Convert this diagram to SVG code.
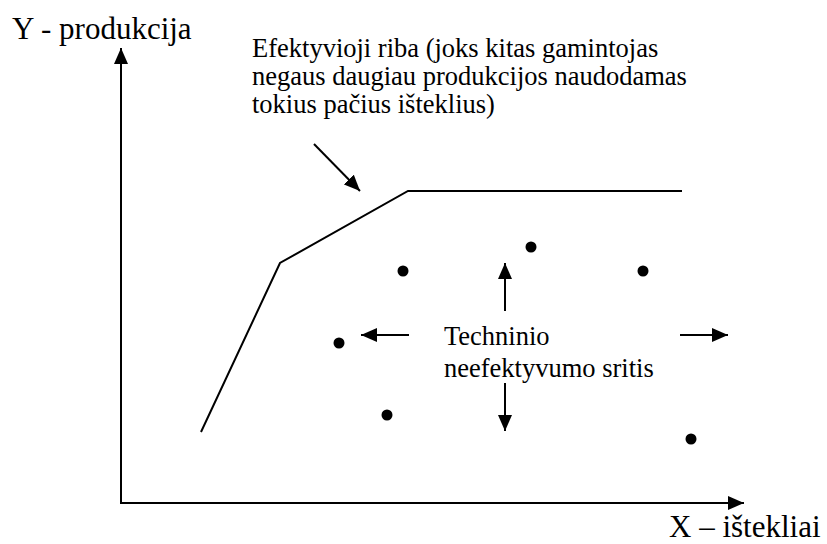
<svg xmlns="http://www.w3.org/2000/svg" width="827" height="544" viewBox="0 0 827 544">
  <style>
    text { font-family: 'Liberation Serif', 'Times New Roman', serif; fill: #000; }
    .axis-label { font-size: 31px; }
    .label { font-size: 26.5px; }
    .ln { stroke: #000; stroke-width: 2; fill: none; }
    .dot { fill: #000; }
  </style>
  <defs>
    <marker id="arrow" markerUnits="userSpaceOnUse" markerWidth="16" markerHeight="14" refX="16" refY="7" orient="auto">
      <path d="M0,0 L16,7 L0,14 z" fill="#000"/>
    </marker>
  </defs>

  <!-- axes -->
  <g id="axes">
    <line class="ln" x1="121" y1="503" x2="121" y2="48" marker-end="url(#arrow)"/>
    <line class="ln" x1="120" y1="503" x2="744" y2="503" marker-end="url(#arrow)"/>
    <text class="axis-label" x="12" y="39" font-size="31.5">Y - produkcija</text>
    <text class="axis-label" x="669" y="537" font-size="30.3">X – ištekliai</text>
  </g>

  <!-- efficient frontier -->
  <g id="frontier">
    <polyline class="ln" points="201,432 280,263 408,191 682,191"/>
  </g>

  <!-- frontier caption -->
  <g id="frontier-label">
    <text class="label" x="252" y="57">Efektyvioji riba (joks kitas gamintojas</text>
    <text class="label" x="252" y="85">negaus daugiau produkcijos naudodamas</text>
    <text class="label" x="252" y="113">tokius pačius išteklius)</text>
  </g>

  <!-- inefficiency region caption -->
  <g id="region-label">
    <text class="label" x="444" y="345">Techninio</text>
    <text class="label" x="444" y="377">neefektyvumo sritis</text>
  </g>

  <!-- producers -->
  <g id="producers">
    <circle class="dot" cx="403" cy="271" r="5.5"/>
    <circle class="dot" cx="531" cy="247" r="5.5"/>
    <circle class="dot" cx="643" cy="271" r="5.5"/>
    <circle class="dot" cx="339" cy="343" r="5.5"/>
    <circle class="dot" cx="387" cy="415" r="5.5"/>
    <circle class="dot" cx="691" cy="439" r="5.5"/>
  </g>

  <!-- connectors -->
  <g id="connectors">
    <line class="ln" x1="314" y1="144" x2="360" y2="191" marker-end="url(#arrow)"/>
    <line class="ln" x1="505" y1="311" x2="505" y2="263" marker-end="url(#arrow)"/>
    <line class="ln" x1="505" y1="383" x2="505" y2="431" marker-end="url(#arrow)"/>
    <line class="ln" x1="409" y1="335" x2="361" y2="335" marker-end="url(#arrow)"/>
    <line class="ln" x1="680" y1="335" x2="728" y2="335" marker-end="url(#arrow)"/>
  </g>
</svg>
